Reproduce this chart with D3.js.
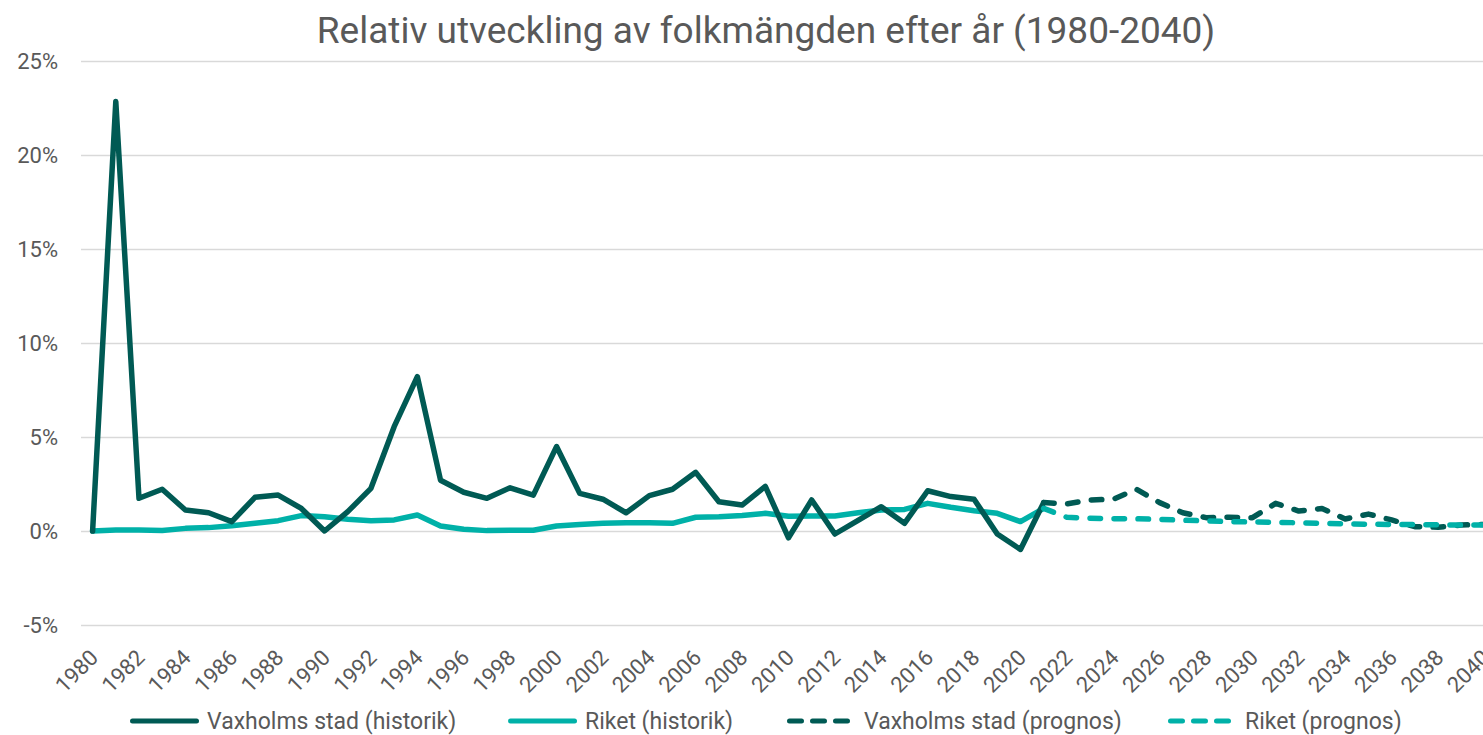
<!DOCTYPE html>
<html>
<head>
<meta charset="utf-8">
<script src="https://cdn.jsdelivr.net/npm/d3@7/dist/d3.min.js"></script>
<style>
  html, body { margin: 0; padding: 0; background: #fff; overflow: hidden; }
  svg { display: block; font-family: Roboto, "Noto Sans", sans-serif; }
</style>
</head>
<body>
<svg id="chart" width="1483" height="735"></svg>
<script>
// Years on the category axis
const years = d3.range(1980, 2041);
const histYears = d3.range(1980, 2022);
const progYears = d3.range(2021, 2041);

// Annual relative population change, percent
const vaxholmHist = [0, 22.84, 1.74, 2.22, 1.12, 0.97, 0.5, 1.79, 1.91, 1.2,
  0, 1.03, 2.27, 5.55, 8.21, 2.7, 2.06, 1.74, 2.3, 1.91,
  4.49, 2.0, 1.69, 0.97, 1.88, 2.22, 3.12, 1.56, 1.38, 2.37,
  -0.36, 1.65, -0.16, 0.57, 1.29, 0.41, 2.14, 1.83, 1.69, -0.16,
  -0.98, 1.51];
const riketHist = [0, 0.05, 0.05, 0.03, 0.14, 0.18, 0.28, 0.41, 0.55, 0.82,
  0.76, 0.62, 0.55, 0.59, 0.85, 0.27, 0.09, 0.02, 0.04, 0.04,
  0.27, 0.34, 0.41, 0.44, 0.44, 0.41, 0.73, 0.76, 0.82, 0.94,
  0.78, 0.8, 0.8, 0.97, 1.12, 1.15, 1.47, 1.26, 1.08, 0.94,
  0.5, 1.2];
const vaxholmProg = [1.51, 1.44, 1.65, 1.69, 2.22, 1.51, 0.97, 0.71, 0.73, 0.71,
  1.47, 1.06, 1.2, 0.64, 0.9, 0.59, 0.23, 0.2, 0.32, 0.35];
const riketProg = [1.2, 0.73, 0.68, 0.65, 0.65, 0.62, 0.57, 0.54, 0.5, 0.48,
  0.46, 0.44, 0.41, 0.38, 0.36, 0.35, 0.34, 0.33, 0.32, 0.32];

const yTicks = [-5, 0, 5, 10, 15, 20, 25];
const xTickYears = years.filter(y => y % 2 === 0);

const titleText = "Relativ utveckling av folkmängden efter år (1980-2040)";
const seriesNames = ["Vaxholms stad (historik)", "Riket (historik)",
  "Vaxholms stad (prognos)", "Riket (prognos)"];

const DARK = "#005a54";
const LIGHT = "#00b1a8";
const TEXT = "#595959";
const LINE_W = 5.5;
const DASH = "10.5,13.5";

const svg = d3.select("#chart");

const x = d3.scalePoint().domain(years).range([81, 1496]).padding(0.5);
const y = d3.scaleLinear().domain([-5, 25]).range([625, 61]);

// Title
svg.append("text")
  .attr("x", 766).attr("y", 43)
  .attr("text-anchor", "middle")
  .attr("fill", TEXT)
  .attr("font-size", 37)
  .text(titleText);

// Horizontal gridlines + y labels
const yAxis = d3.axisLeft(y).tickValues(yTicks).tickSize(-(1496 - 81))
  .tickFormat(d => d + "%").tickPadding(23);
const gy = svg.append("g").attr("transform", "translate(81,0)").call(yAxis);
gy.select(".domain").remove();
gy.selectAll(".tick line").attr("stroke", "#d9d9d9").attr("stroke-width", 1.5);
gy.selectAll(".tick text").attr("fill", TEXT).attr("font-size", 22)
  .attr("font-family", "Roboto, sans-serif");

// x labels, rotated
const xAxis = d3.axisBottom(x).tickValues(xTickYears).tickSize(0);
const gx = svg.append("g").attr("transform", "translate(0,640)").call(xAxis);
gx.select(".domain").remove();
gx.selectAll(".tick text")
  .attr("fill", TEXT).attr("font-size", 22)
  .attr("font-family", "Roboto, sans-serif")
  .attr("text-anchor", "end")
  .attr("dy", "0.35em")
  .attr("y", 0)
  .attr("transform", "translate(1,13.5) rotate(-45)");

// Series lines
const line = d3.line().x(d => x(d[0])).y(d => y(d[1]));
const series = [
  { yrs: histYears, vals: riketHist, color: LIGHT, dash: null },
  { yrs: histYears, vals: vaxholmHist, color: DARK, dash: null },
  { yrs: progYears, vals: vaxholmProg, color: DARK, dash: DASH },
  { yrs: progYears, vals: riketProg, color: LIGHT, dash: DASH }
];
const plot = svg.append("g");
series.forEach(s => {
  plot.append("path")
    .datum(s.yrs.map((yr, i) => [yr, s.vals[i]]))
    .attr("d", line)
    .attr("fill", "none")
    .attr("stroke", s.color)
    .attr("stroke-width", LINE_W)
    .attr("stroke-linejoin", "round")
    .attr("stroke-linecap", "round")
    .attr("stroke-dasharray", s.dash);
});

// Legend
const LEG_Y = 721;
const legendItems = [
  { name: seriesNames[0], color: DARK, dash: null, x: 130 },
  { name: seriesNames[1], color: LIGHT, dash: null, x: 508 },
  { name: seriesNames[2], color: DARK, dash: "12,11", x: 787 },
  { name: seriesNames[3], color: LIGHT, dash: "12,11", x: 1168 }
];
const legend = svg.append("g");
legendItems.forEach(it => {
  legend.append("line")
    .attr("x1", it.x + 2.5).attr("x2", it.x + 66.5)
    .attr("y1", LEG_Y).attr("y2", LEG_Y)
    .attr("stroke", it.color).attr("stroke-width", 5)
    .attr("stroke-linecap", "round")
    .attr("stroke-dasharray", it.dash);
  legend.append("text")
    .attr("x", it.x + 77).attr("y", LEG_Y).attr("dy", "0.35em")
    .attr("fill", TEXT).attr("font-size", 23)
    .text(it.name);
});
</script>
</body>
</html>
